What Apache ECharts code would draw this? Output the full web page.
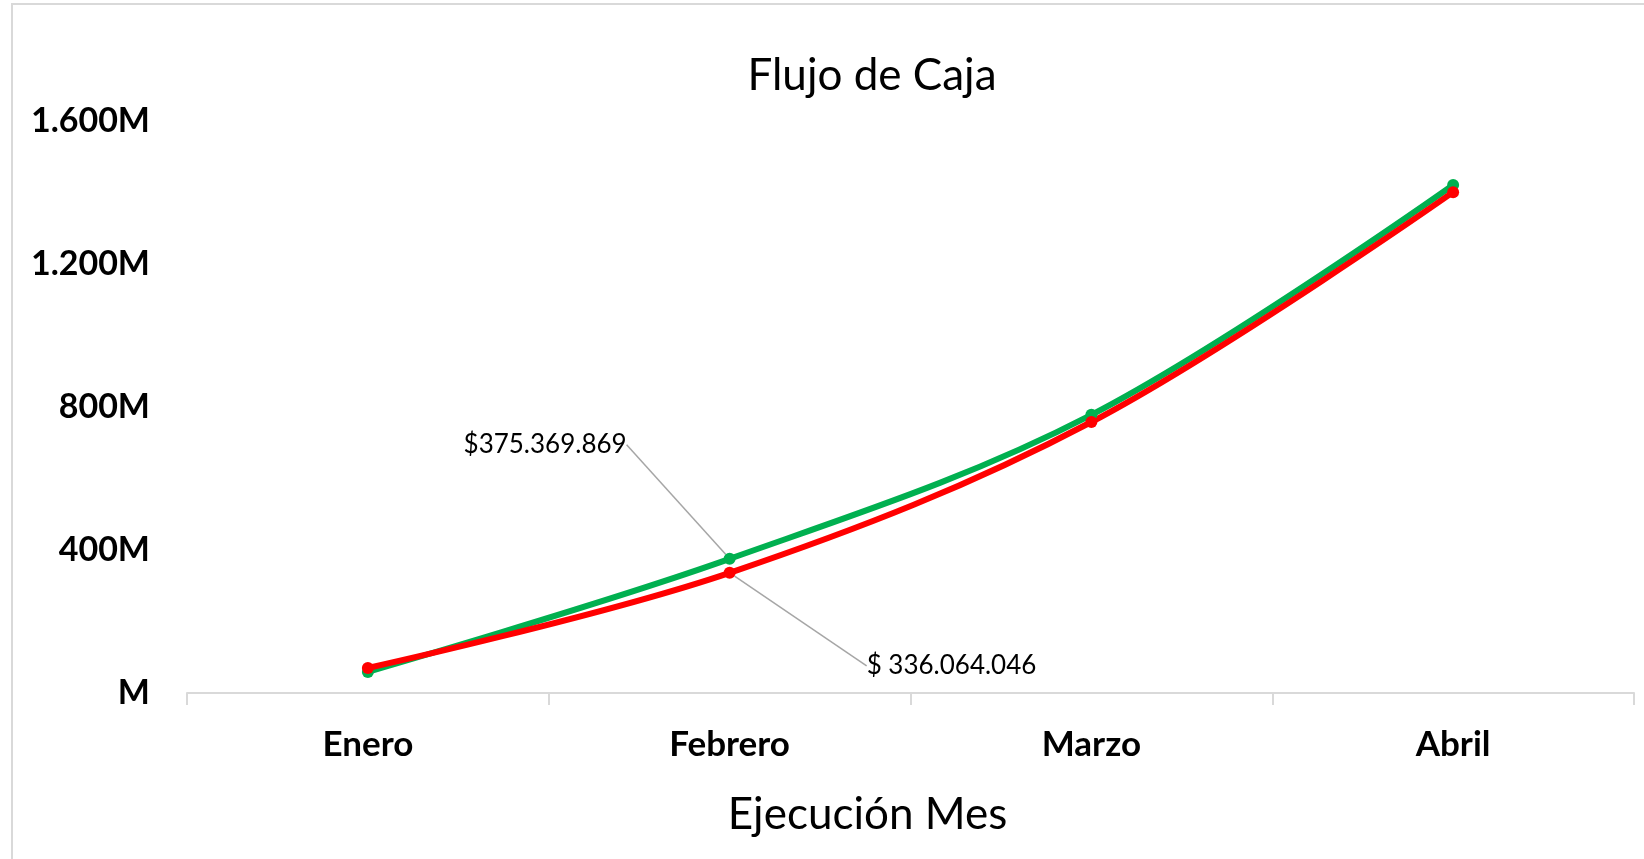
<!DOCTYPE html>
<html>
<head>
<meta charset="utf-8">
<title>Flujo de Caja</title>
<script src="https://cdn.jsdelivr.net/npm/echarts@6/dist/echarts.min.js"></script>
<style>
  html, body { margin: 0; padding: 0; background: #fff; }
  #chart { width: 1644px; height: 859px; }
</style>
</head>
<body>
<div id="chart"></div>
<script>
// data
const months = ['Enero', 'Febrero', 'Marzo', 'Abril']
const planned = [59000000, 375369869, 778000000, 1421000000]
const actual = [70000000, 336064046, 758000000, 1401000000]
const labelIndex = 1 // only Febrero carries a data label

const yMin = 0
const yMax = 1600000000
const yStep = 400000000

const font = 'Lato, "Noto Sans", sans-serif'

function dots(n) {
  return String(Math.round(n)).replace(/\B(?=(\d{3})+(?!\d))/g, '.')
}

function withLabel(values) {
  return values.map((v, i) => i === labelIndex ? { value: v, label: { show: true } } : v)
}

const chart = echarts.init(document.getElementById('chart'))

chart.setOption({
  animation: false,
  backgroundColor: '#fff',
  textStyle: { fontFamily: font },
  graphic: [
    {
      type: 'rect',
      shape: { x: 12, y: 4, width: 1720, height: 900 },
      style: { fill: 'none', stroke: '#d9d9d9', lineWidth: 2 },
      silent: true,
    },
  ],
  title: {
    text: 'Flujo de Caja',
    left: 867,
    textAlign: 'center',
    top: 49,
    textStyle: {
      fontFamily: font,
      fontSize: 44,
      fontWeight: 'normal',
      color: '#000',
    },
  },
  grid: {
    left: 187,
    right: 10,
    top: 121,
    bottom: 166,
  },
  xAxis: {
    type: 'category',
    data: months,
    boundaryGap: true,
    name: 'Ejecución Mes',
    nameLocation: 'middle',
    nameGap: 100,
    nameTextStyle: {
      fontFamily: font,
      fontSize: 44,
      color: '#000',
      padding: [0, 86, 0, 0],
    },
    axisLine: { lineStyle: { color: '#d9d9d9', width: 2 } },
    axisTick: { show: true, length: 12, lineStyle: { color: '#d9d9d9', width: 2 } },
    axisLabel: {
      margin: 34,
      fontFamily: font,
      fontSize: 35,
      fontWeight: 'bold',
      color: '#000',
    },
  },
  yAxis: {
    type: 'value',
    min: yMin,
    max: yMax,
    interval: yStep,
    axisLine: { show: false },
    axisTick: { show: false },
    splitLine: { show: false },
    axisLabel: {
      margin: 37,
      fontFamily: font,
      fontSize: 34,
      fontWeight: 'bold',
      color: '#000',
      formatter: (v) => (v === 0 ? '' : dots(v / 1000000)) + 'M',
    },
  },
  series: [
    {
      name: 'Proyectado',
      type: 'line',
      smooth: 0.35,
      data: withLabel(planned),
      symbol: 'circle',
      symbolSize: 12,
      lineStyle: { width: 6, color: '#00B050' },
      itemStyle: { color: '#00B050' },
      label: {
        show: false,
        position: 'left',
        distance: 5,
        fontFamily: font,
        fontSize: 26,
        color: '#000',
        formatter: (p) => '$' + dots(p.value),
      },
      labelLine: { show: true, lineStyle: { color: '#a6a6a6', width: 1.5 } },
      labelLayout: { dx: -92, dy: -114 },
    },
    {
      name: 'Ejecutado',
      type: 'line',
      smooth: 0.35,
      data: withLabel(actual),
      symbol: 'circle',
      symbolSize: 12,
      lineStyle: { width: 6, color: '#FF0000' },
      itemStyle: { color: '#FF0000' },
      label: {
        show: false,
        position: 'right',
        distance: 5,
        fontFamily: font,
        fontSize: 26,
        color: '#000',
        formatter: (p) => '$ ' + dots(p.value),
      },
      labelLine: { show: true, lineStyle: { color: '#a6a6a6', width: 1.5 } },
      labelLayout: { dx: 126, dy: 93 },
    },
  ],
})

window.addEventListener('resize', chart.resize)
</script>
</body>
</html>
